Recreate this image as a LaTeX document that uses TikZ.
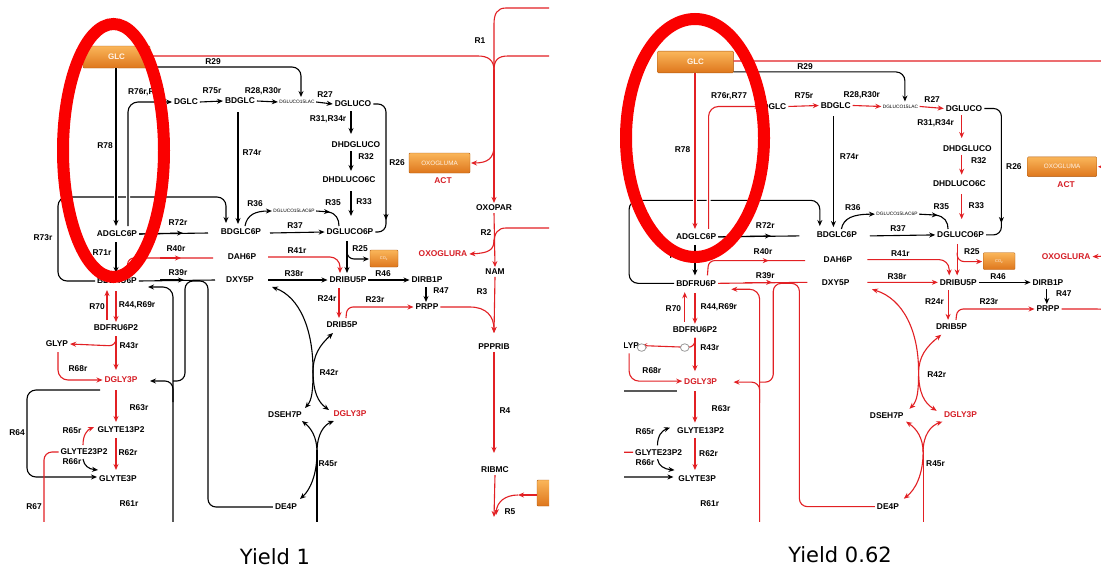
\documentclass[tikz,border=0pt]{standalone}
\usepackage{fontspec}
\setmainfont{Liberation Sans}
\newfontfamily\yfont{DejaVu Sans}
\usetikzlibrary{arrows.meta}
\definecolor{rd}{RGB}{226,32,36}
\definecolor{rtext}{RGB}{214,30,38}
\definecolor{ell}{RGB}{250,0,0}
\definecolor{orT}{RGB}{250,182,90}
\definecolor{orB}{RGB}{222,118,28}
\colorlet{cu}{black}\colorlet{cl}{black}\colorlet{cs}{rd}
\newif\iffull
\tikzset{
 met/.style={font=\fontsize{8.4}{9}\selectfont\bfseries, inner sep=1.5pt},
 rl/.style={font=\fontsize{8.4}{9}\selectfont\bfseries, inner sep=0.5pt},
 tiny/.style={font=\fontsize{4.8}{5}\selectfont, inner sep=1pt},
 rt/.style={text=rtext},
 ar/.style={-{Stealth[length=6pt,width=5pt]}},
 ar2/.style={{Stealth[length=6pt,width=5pt]}-{Stealth[length=6pt,width=5pt]}},
 obox/.style={top color=orT, bottom color=orB, draw=orB!80!black, line width=0.4pt, rounded corners=1pt},
 gap/.style={preaction={draw=white,line width=4pt,-}},
 boxtext/.style={text=white!92!orange, inner sep=0pt},
}
\newcommand{\panel}{%
% ---- boxes
\shade[obox] (83,46) rectangle (150,68);
\node[boxtext,font=\fontsize{8}{9}\selectfont\bfseries] (glc) at (116.5,57) {GLC};
\shade[obox] (409,153) rectangle (470,173);
\node[boxtext,font=\fontsize{6.3}{7}\selectfont] (oxogluma) at (439.5,163) {OXOGLUMA};
\coordinate (oxboxe) at (471,163);
\node[met,rt] (act) at (443,181) {ACT};
\shade[obox] (370,250) rectangle (398,267);
\node[boxtext,font=\fontsize{4}{4}\selectfont] (co2) at (384,258.5) {CO\textsubscript{2}};
\coordinate (co2w) at (369,259);
% ---- metabolites
\node[met] (adglc) at (186,102) {DGLC};
\node[met] (bdglc) at (240,101) {BDGLC};
\node[tiny] (dgla) at (297,102) {DGLUCO15LAC};
\node[met] (dgluco) at (353,104) {DGLUCO};
\node[met] (dhdgluco) at (356,145) {DHDGLUCO};
\node[met] (dhdluco) at (349,180) {DHDLUCO6C};
\node[met] (adglc6p) at (117,234) {ADGLC6P};
\node[met] (bdglc6p) at (241,232) {BDGLC6P};
\node[tiny] (dglb) at (294,211) {DGLUCO15LAC6P};
\node[met] (dgluco6p) at (350,232) {DGLUCO6P};
\node[met] (dah6p) at (242,257) {DAH6P};
\node[met,rt] (oxoglura) at (443,254) {OXOGLURA};
\node[met] (bdfru6p) at (117,281) {BDFRU6P};
\node[met] (dxy5p) at (240,280) {DXY5P};
\node[met] (dribu5p) at (348,280) {DRIBU5P};
\node[met] (dirb1p) at (427,280) {DIRB1P};
\node[met] (prpp) at (427,307) {PRPP};
\node[met] (drib5p) at (342,325) {DRIB5P};
\node[met] (bdfruii) at (116,328) {BDFRU6P2};
\node[met] (glyp) at (57,344) {GLYP};
\node[met,rt] (dgly3p) at (121,380) {DGLY3P};
\node[met] (dseh7p) at (285,415) {DSEH7P};
\node[met,rt] (dgly3pb) at (350,414) {DGLY3P};
\node[met] (glyte13p2) at (121,430) {GLYTE13P2};
\node[met] (glyte23p2) at (84,452) {GLYTE23P2};
\node[met] (glyte3p) at (118,479) {GLYTE3P};
\node[met] (de4p) at (286,507) {DE4P};
% ---- reaction labels
\node[rl] (l29) at (213,62) {R29};
\node[rl] (l76) at (146,92) {R76r,R77};
\node[rl] (l75) at (212,91) {R75r};
\node[rl] (l28) at (263,91) {R28,R30r};
\node[rl] (l27) at (325,95) {R27};
\node[rl] (l78) at (105,146) {R78};
\node[rl] (l74) at (252,153) {R74r};
\node[rl] (l31) at (328,119) {R31,R34r};
\node[rl] (l32) at (366,157) {R32};
\node[rl] (l26) at (397,163) {R26};
\node[rl] (l33) at (364,202) {R33};
\node[rl] (l35) at (333,203) {R35};
\node[rl] (l36) at (255,204) {R36};
\node[rl] (l73) at (43,238) {R73r};
\node[rl] (l72) at (178,223) {R72r};
\node[rl] (l37) at (295,226) {R37};
\node[rl] (l71) at (102,253) {R71r};
\node[rl] (l40) at (176,249) {R40r};
\node[rl] (l41) at (297,251) {R41r};
\node[rl] (l25) at (360,249) {R25};
\node[rl] (l39) at (178,273) {R39r};
\node[rl] (l38) at (294,274) {R38r};
\node[rl] (l46) at (383,274) {R46};
\node[rl] (l47) at (441,291) {R47};
\node[rl] (l24) at (327,299) {R24r};
\node[rl] (l23) at (375,300) {R23r};
\node[rl] (l70) at (97,307) {R70};
\node[rl] (l44) at (137,305) {R44,R69r};
\node[rl] (l43) at (129,346) {R43r};
\node[rl] (l68) at (78,369) {R68r};
\node[rl] (l42) at (329,373) {R42r};
\node[rl] (l63) at (139,408) {R63r};
\node[rl] (l65) at (72,431) {R65r};
\node[rl] (l64) at (17,433) {R64};
\node[rl] (l62) at (128,453) {R62r};
\node[rl] (l66) at (72,462) {R66r};
\node[rl] (l45) at (328,464) {R45r};
\node[rl] (l61) at (129,504) {R61r};
\node[rl] (l67) at (34,507) {R67};
% ---- far right column (left panel only)
\iffull
\shade[obox] (537,480) rectangle (565,506);
\node[met] (oxopar) at (494,208) {OXOPAR};
\node[met] (nam) at (495,272) {NAM};
\node[met] (ppprib) at (494,347) {PPPRIB};
\node[met] (ribmc) at (495,470) {RIBMC};
\node[rl] (l1) at (480,41) {R1};
\node[rl] (l2) at (486,233) {R2};
\node[rl] (l3) at (482,292) {R3};
\node[rl] (l4) at (505,411) {R4};
\node[rl] (l5) at (510,512) {R5};
\draw[rd,ar] (494,70) -- (oxopar.north);
\draw[rd,ar] (nam.south) -- (494,333);
\draw[rd,ar] (oxopar.south) -- (nam.north);
\draw[rd,ar] (ppprib.south) -- (494,453);
\draw[rd,ar] (ribmc.south) -- (494,517);
\draw[rd,ar] (537,495) -- (518,495);
\draw[rd,ar] (518,495) .. controls (505,495) and (497,502) .. (496,515);
\draw[rd] (570,8) -- (506,8) .. controls (497,8) and (494,14) .. (494,24) -- (494,70);
\draw[rd] (570,228) -- (506,228) .. controls (498,228) and (494,233) .. (494,243);
\fi
% ---- R1 (red, top)
\draw[rd] (150,56) -- (478,56) .. controls (488,56) and (494,60) .. (494,70);
\draw[rd] (570,56) -- (508,56) .. controls (498,56) and (494,60) .. (494,70);
\draw[rd,ar] (494,146) .. controls (494,158) and (488,163) .. (oxboxe);
% ---- R29
\draw[ar,rounded corners=9pt] (150,67) -- (301,67) -- (301,97);
% ---- R73r loop
\draw[ar,rounded corners=9pt] (bdfru6p.west) -- (58,281) -- (58,197) -- (226,197) -- (226,223);
% ---- upper chain
\draw[cu,ar,gap] (116,68) -- (116,226);
\draw[cu,ar,gap,rounded corners=10pt] (128,226) -- (128,102) -- (adglc.west);
\draw[cu,ar] (adglc.east) -- (bdglc.west);
\draw[cu,ar] (bdglc.east) -- (dgla.west);
\draw[cu,ar] (dgla.east) -- (dgluco.west);
\draw[cu,ar] (351,111) -- (351,134);
\draw[cu,ar] (351,151) -- (351,171);
\draw[cu,ar] (351,191) -- (351,216);
\draw[ar,rounded corners=8pt] (dgluco.east) -- (386,104) -- (386,220);
\draw[rounded corners=8pt] (386,214) -- (386,232) -- (dgluco6p.east);
\draw[ar] (238,112) -- (238,224);
\draw (adglc6p.east) -- (208,233);
\draw[ar] (adglc6p.east) -- (183,233);
\draw[ar] (116,242) -- (116,273);
\draw[ar] (245,226) .. controls (247,215) and (255,211) .. (dglb.west);
\draw[ar] (dglb.east) -- (330,212);
\draw (328,212) .. controls (336,213) and (339,219) .. (339,226);
\draw[ar] (270,233) -- (dgluco6p.west);
% ---- middle
\draw[rd,rounded corners=6pt] (127,273) -- (128,258) -- (213,258);
\draw[rd,ar] (160,258) -- (181,258);
\draw[rd,ar,rounded corners=10pt] (268,257) -- (340,257) -- (340,273);
\draw[cl] (bdfru6p.east) -- (215,280);
\draw[cl,ar] (160,280) -- (184,280);
\draw[cl,ar] (268,280) -- (dribu5p.west);
\draw[cl,ar] (347,241) -- (347,273);
\draw[cl,ar,rounded corners=7pt] (347,250) -- (347,259) -- (co2w);
\draw[ar] (dribu5p.east) -- (dirb1p.west);
\draw[ar] (426,287) -- (426,302);
\draw[rd,ar] (339,288) -- (339,318);
\draw[rd,ar,rounded corners=6pt] (346,318) -- (347,307) -- (prpp.west);
\draw[rd,ar] (prpp.east) -- (470,307) .. controls (486,307) and (494,316) .. (494,333);
\draw[rd,ar] (494,240) .. controls (494,250) and (489,253) .. (oxoglura.east);
% ---- lower left
\draw[rd,ar] (107,320) -- (107,290);
\draw[rd,ar] (116,291) -- (116,322);
\draw[rd,ar] (116,336) -- (116,370);
\draw[rd,ar,rounded corners=7pt] (116,336) -- (116,346) -- (glyp.east);
\draw[rd,ar,rounded corners=10pt] (58,352) -- (58,380) -- (dgly3p.west);
\draw[rd,ar] (116,390) -- (116,422);
\draw[rd,ar] (116,438) -- (116,470);
\draw[cs,ar] (83,445) .. controls (83,435) and (87,430) .. (94,427);
\draw[ar] (83,459) .. controls (84,466) and (89,469) .. (98,470);
\draw[ar,rounded corners=9pt] (100,390) -- (27,390) -- (27,477) -- (97,477);
\draw[rd,rounded corners=8pt] (glyte23p2.west) -- (44,452) -- (44,525);
% ---- side loops
\draw[cl,ar,rounded corners=10pt] (173,525) -- (173,287) -- (148,287);
\draw[cl,ar,rounded corners=8pt] (173,402) -- (173,381) -- (150,381);
\draw[cl,rounded corners=8pt] (173,381) -- (185,381) -- (185,281) -- (208,281) -- (208,507) -- (de4p.west);
% ---- R42r
\draw[cl,ar2] (272,287) .. controls (300,297) and (313,330) .. (313,370) .. controls (313,392) and (318,402) .. (329,410);
\draw[cl,ar2] (333,333) .. controls (320,345) and (313,355) .. (313,372) .. controls (313,390) and (312,400) .. (305,408);
% ---- R45r
\draw[cl] (317,525) -- (317,450);
\draw[cl,ar] (317,452) .. controls (317,437) and (311,428) .. (302,421);
\draw[cl,ar] (317,452) .. controls (317,434) and (324,425) .. (334,421);
\draw[cl,ar] (317,452) .. controls (317,475) and (310,490) .. (300,499);
}
\begin{document}
\begin{tikzpicture}[x=1pt,y=-1pt,line width=1.1pt]
\useasboundingbox[fill=white] (0,0) rectangle (1101,579);
% left panel
\begin{scope}
\clip (0,0) rectangle (549,521);
\fulltrue
\panel
\end{scope}
% right panel
\begin{scope}
\clip (624,0) rectangle (1101,521);
\begin{scope}[shift={(563.3,5.7)}, xscale=1.135, yscale=0.988]
\fullfalse
\colorlet{cu}{rd}\colorlet{cl}{rd}\colorlet{cs}{black}
\panel
\draw[gray!80, line width=0.8pt, fill=white] (69,346) circle[radius=3.8pt] (107,346) circle[radius=3.8pt];
\end{scope}
\end{scope}
% highlight ellipses
\draw[ell, line width=12pt] (113.5,150.5) ellipse [x radius=50.5pt, y radius=126.5pt];
\draw[ell, line width=12pt] (695,138) ellipse [x radius=69pt, y radius=119pt];
% captions
\node[font=\yfont\fontsize{21}{25}\selectfont] (y1) at (275,557) {Yield 1};
\node[font=\yfont\fontsize{21}{25}\selectfont] (y2) at (840,555) {Yield 0.62};
\end{tikzpicture}
\end{document}
